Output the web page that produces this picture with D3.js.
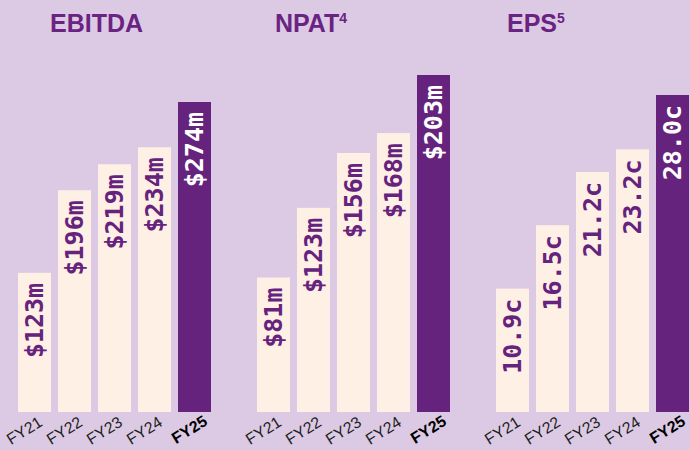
<!DOCTYPE html>
<html>
<head>
<meta charset="utf-8">
<script src="https://cdn.jsdelivr.net/npm/d3@7"></script>
<style>
  html, body { margin: 0; padding: 0; background: #dccae4; }
  svg { display: block; }
</style>
</head>
<body>
<div id="chart"></div>
<script>
// 数据
const years = ["FY21", "FY22", "FY23", "FY24", "FY25"];
const ebitda = [123, 196, 219, 234, 274];
const npat = [81, 123, 156, 168, 203];
const eps = [10.9, 16.5, 21.2, 23.2, 28.0];

const titles = ["EBITDA", "NPAT", "EPS"];
const superscripts = ["", "4", "5"];

const width = 690, height = 450;
const baseY = 412;

const bg = "#dccae4";
const cream = "#fff0e6";
const purple = "#65237d";

const svg = d3.select("#chart")
    .append("svg")
    .attr("width", width)
    .attr("height", height);

svg.append("rect")
    .attr("width", width)
    .attr("height", height)
    .attr("fill", bg);

// 每个面板的布局
const panels = [
    { values: ebitda, fmt: d => `$${d}m`, x0: 18, titleX: 50, topY: 102 },
    { values: npat, fmt: d => `$${d}m`, x0: 257, titleX: 275, topY: 75 },
    { values: eps, fmt: d => d.toFixed(1) + "c", x0: 496, titleX: 507, topY: 95 }
];

panels.forEach((p, pi) => {
    const g = svg.append("g");

    const x = d3.scaleBand()
        .domain(years)
        .range([p.x0, p.x0 + 193])
        .paddingInner(0.175)
        .paddingOuter(0);

    const y = d3.scaleLinear()
        .domain([0, d3.max(p.values)])
        .range([baseY, p.topY]);

    const last = years.length - 1;

    // 柱子
    g.selectAll("rect.bar")
        .data(p.values)
        .join("rect")
        .attr("class", "bar")
        .attr("x", (d, i) => x(years[i]))
        .attr("y", d => y(d))
        .attr("width", x.bandwidth())
        .attr("height", d => baseY - y(d))
        .attr("fill", (d, i) => i === last ? purple : cream);

    // 数值标签（竖排）
    g.selectAll("text.val")
        .data(p.values)
        .join("text")
        .attr("class", "val")
        .attr("transform", (d, i) =>
            `translate(${x(years[i]) + x.bandwidth() / 2 + 8},${y(d) + 10}) rotate(-90)`)
        .attr("text-anchor", "end")
        .attr("fill", (d, i) => i === last ? "#ffffff" : purple)
        .style("font-family", "'DejaVu Sans Mono', monospace")
        .style("font-weight", "bold")
        .style("font-size", "25px")
        .text(d => p.fmt(d));

    // X 轴标签（斜排）
    g.selectAll("text.yr")
        .data(years)
        .join("text")
        .attr("class", "yr")
        .attr("transform", (d, i) =>
            `translate(${x(d) + x.bandwidth() / 2 + (i === last ? 14 : 9)},${baseY + (i === last ? 12 : 13)}) rotate(-32)`)
        .attr("text-anchor", "end")
        .attr("fill", (d, i) => i === last ? "#000" : "#222")
        .style("font-family", "'Liberation Sans', Arial, sans-serif")
        .style("font-weight", (d, i) => i === last ? "bold" : "normal")
        .style("font-size", "16px")
        .text(d => d);

    // 标题
    const t = g.append("text")
        .attr("x", p.titleX)
        .attr("y", 32)
        .attr("fill", "#6a2383")
        .style("font-family", "'Liberation Sans', Arial, sans-serif")
        .style("font-weight", "bold")
        .style("font-size", "25px")
        .text(titles[pi]);

    if (superscripts[pi]) {
        t.append("tspan")
            .attr("dy", -9)
            .style("font-size", "14px")
            .text(superscripts[pi]);
    }
});
</script>
</body>
</html>
